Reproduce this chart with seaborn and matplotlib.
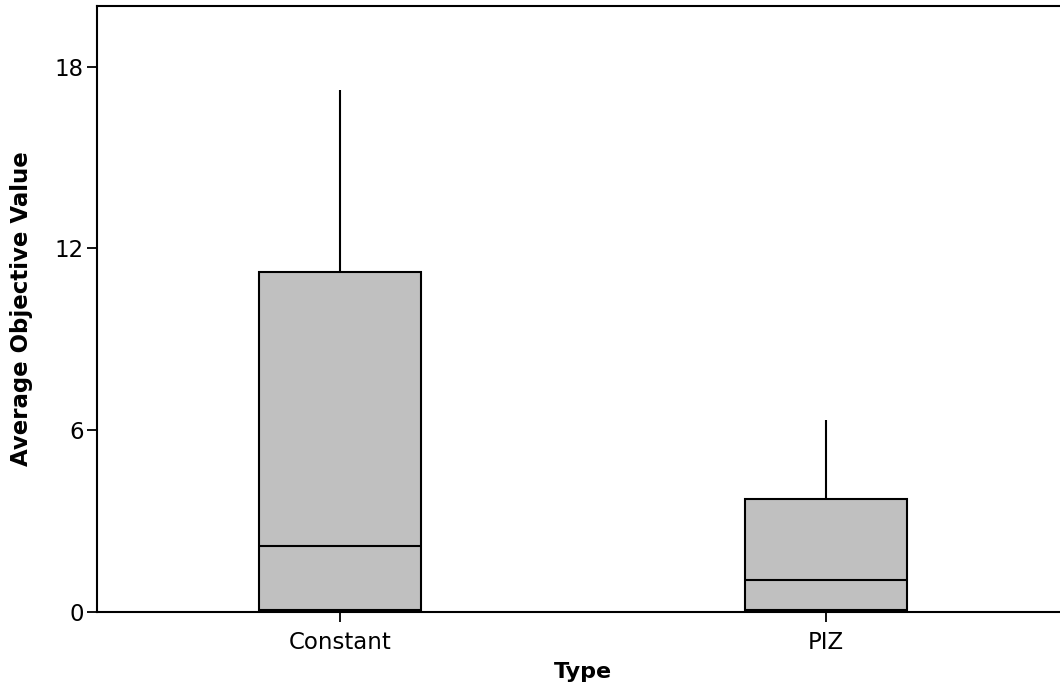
import matplotlib
matplotlib.use("Agg")
import matplotlib.pyplot as plt
import numpy as np
import pandas as pd
import seaborn as sns

# summary points per group: min, Q1, median, Q3, max
categories = ["Constant", "PIZ"]
constant_values = [0.0, 0.06, 2.17, 11.23, 17.23]
piz_values = [0.0, 0.06, 1.05, 3.74, 6.33]
y_ticks = [0, 6, 12, 18]

df = pd.DataFrame({
    "Type": [categories[0]] * len(constant_values) + [categories[1]] * len(piz_values),
    "value": constant_values + piz_values,
})

sns.set_theme(style="white")
plt.rcParams["font.family"] = ["DejaVu Sans"]

fig = plt.figure(figsize=(10.6, 6.93), dpi=100)
ax = fig.add_axes([97 / 1060, 81 / 693, 972 / 1060, 606 / 693])

line_kw = dict(color="black", linewidth=1.5)
sns.boxplot(data=df, x="Type", y="value", order=categories, whis=(0, 100),
            width=0.333, showcaps=False, color="#C0C0C0", linecolor="black",
            boxprops=dict(facecolor="#C0C0C0", edgecolor="black", linewidth=1.5),
            whiskerprops=line_kw, medianprops=line_kw, ax=ax)

ax.set_xlim(-0.5, 1.5)
ax.set_ylim(0, 20)
ax.set_yticks(y_ticks)
for side in ("left", "bottom", "top", "right"):
    ax.spines[side].set_color("black")
    ax.spines[side].set_linewidth(1.5)
ax.tick_params(axis="both", which="major", direction="out", length=7.5, width=1.3,
               color="black", labelsize=16.5, labelcolor="black",
               left=True, bottom=True)
ax.tick_params(axis="x", pad=6)
ax.tick_params(axis="y", pad=2)

ax.set_xlabel("Type", fontsize=16, fontweight="bold", color="black", labelpad=6)
ax.set_ylabel("Average Objective Value", fontsize=16.5, fontweight="bold", color="black")
ax.yaxis.set_label_coords(-0.066, 0.5)

fig.savefig("out.png", dpi=100)
